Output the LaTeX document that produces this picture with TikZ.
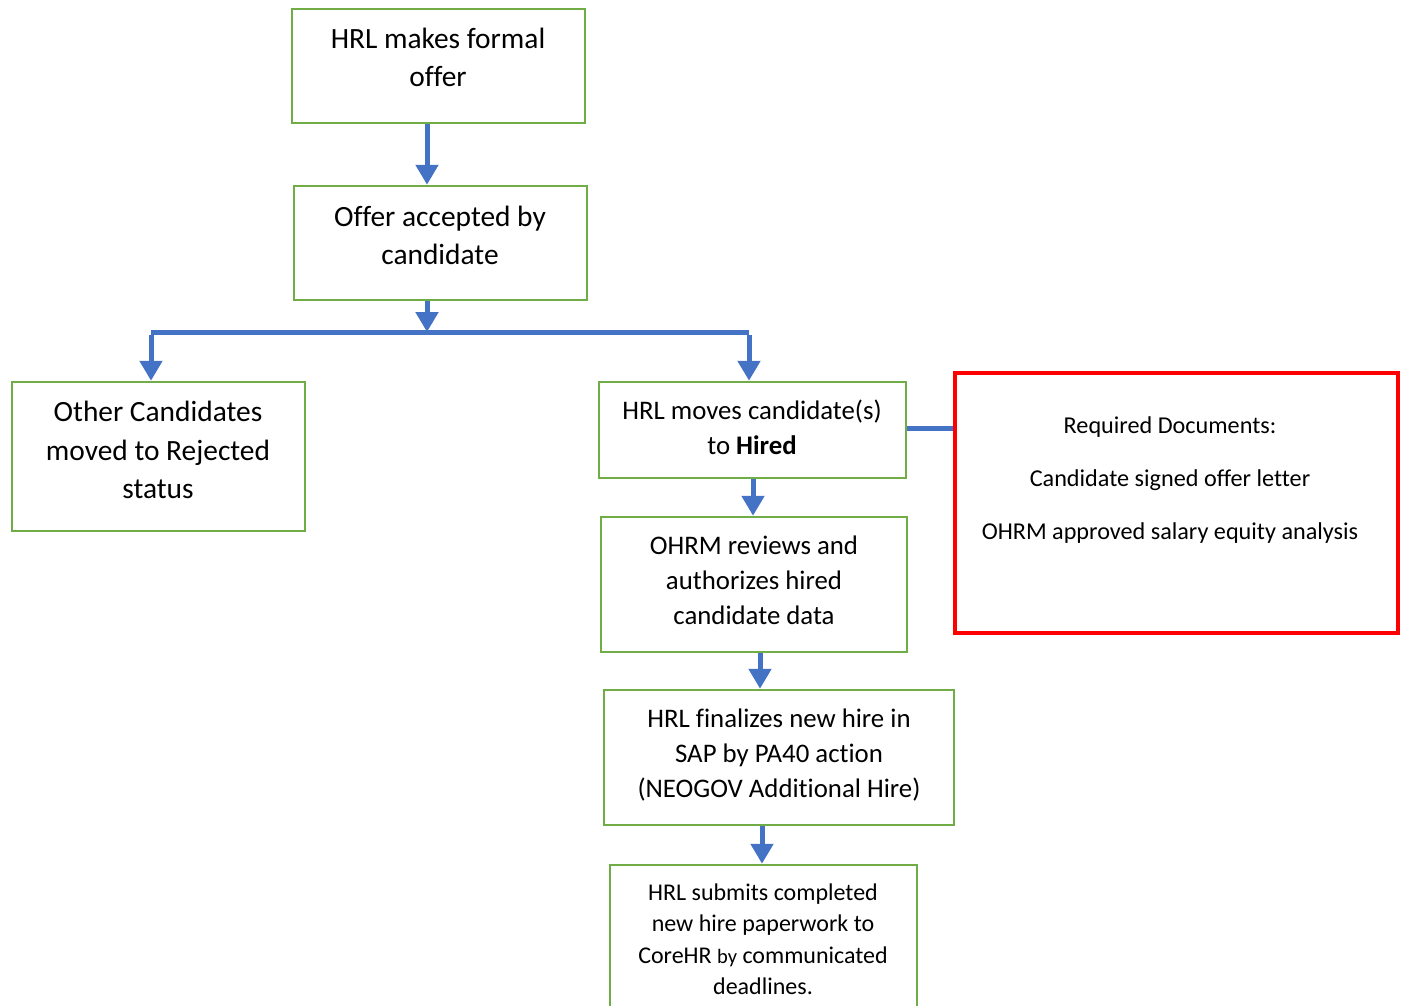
\documentclass[tikz,border=0pt]{standalone}
\usepackage{fontspec}
\setmainfont[Ligatures={NoCommon,TeX}]{Carlito}
\usetikzlibrary{arrows.meta,calc}
\definecolor{gboxc}{HTML}{70AD47}
\definecolor{bluec}{HTML}{4472C4}
\definecolor{redc}{HTML}{FF0000}
\tikzset{
  gbox/.style={draw=gboxc,line width=2.5pt,rectangle,inner sep=0pt},
  rbox/.style={draw=redc,line width=4pt,rectangle,inner sep=0pt},
  conn/.style={draw=bluec,line width=5pt},
  arr/.style={conn,-{Triangle[width=22pt,length=20pt]}},
  bigtxt/.style={align=center,font=\fontsize{29.4}{38.5}\selectfont,inner sep=0pt},
  midtxt/.style={align=center,font=\fontsize{26.8}{35}\selectfont,inner sep=0pt},
  smtxt/.style={align=center,font=\fontsize{24}{31.5}\selectfont,inner sep=0pt},
  redtxt/.style={align=center,font=\fontsize{24.2}{53}\selectfont,inner sep=0pt},
}
\begin{document}
\begin{tikzpicture}[x=1pt,y=-1pt]
\useasboundingbox (0,0) rectangle (1404,1005);
% boxes
\node[gbox,minimum width=293pt,minimum height=114pt] (b1) at (438.5,66) {};
\node[gbox,minimum width=293pt,minimum height=114pt] (b2) at (440.5,243) {};
\node[gbox,minimum width=293pt,minimum height=149pt] (b3) at (158.5,456.5) {};
\node[gbox,minimum width=307pt,minimum height=96pt] (b4) at (752.5,430) {};
\node[gbox,minimum width=306pt,minimum height=135pt] (b5) at (754,584.5) {};
\node[gbox,minimum width=350pt,minimum height=135pt] (b6) at (779,757.5) {};
\node[gbox,minimum width=307pt,minimum height=160pt] (b7) at (763.5,945) {};
\node[rbox,minimum width=443pt,minimum height=260pt] (r1) at (1176.5,503) {};
% texts
\node[bigtxt] (t1) at (438,57.5) {HRL makes formal\\offer};
\node[bigtxt] (t2) at (440,235.5) {Offer accepted by\\candidate};
\node[bigtxt] (t3) at (158,450) {Other Candidates\\moved to Rejected\\status};
\node[midtxt] (t4) at (752,427) {HRL moves candidate(s)\\to \textbf{Hired}};
\node[midtxt] (t5) at (754,580.5) {OHRM reviews and\\authorizes hired\\candidate data};
\node[midtxt] (t6) at (779,755) {HRL finalizes new hire in\\SAP by PA40 action\\(NEOGOV Additional Hire)};
\node[smtxt] (t7) at (763,939) {HRL submits completed\\new hire paperwork to\\CoreHR {\fontsize{20.5}{31.5}\selectfont by} communicated\\deadlines.};
\node[redtxt] (t8) at (1170,480) {Required Documents:\\Candidate signed offer letter\\OHRM approved salary equity analysis};
% connectors
\draw[arr] ([xshift=-11.5pt]b1.south) -- ([xshift=-11.5pt]b1.south |- b2.north);
\coordinate (split) at ([xshift=-13.5pt]b2.south |- 0,332);
\draw[arr] ([xshift=-13.5pt]b2.south) -- (split);
\draw[conn] ([xshift=-7.5pt]b3.north |- split) -- ([xshift=-3.5pt]b4.north |- split);
\draw[arr] ([xshift=-7.5pt,yshift=-2.5pt]b3.north |- split) -- ([xshift=-7.5pt]b3.north);
\draw[arr] ([xshift=-3.5pt,yshift=-2.5pt]b4.north |- split) -- ([xshift=-3.5pt]b4.north);
\draw[arr] ([xshift=0.5pt]b4.south) -- ([xshift=0.5pt]b4.south |- b5.north);
\draw[arr] ([xshift=6pt]b5.south) -- ([xshift=6pt]b5.south |- b6.north);
\draw[arr] ([xshift=-17pt]b6.south) -- ([xshift=-17pt]b6.south |- b7.north);
\draw[conn] (b4.east |- 0,428) -- (r1.west |- 0,428);
\end{tikzpicture}
\end{document}
